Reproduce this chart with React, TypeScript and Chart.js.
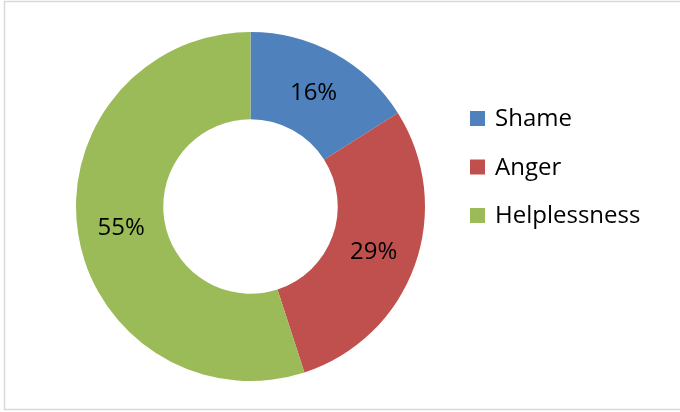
import React, { useEffect, useRef } from "react";
import { Chart, registerables } from "chart.js";

Chart.register(...registerables);

const categories = ["Shame", "Anger", "Helplessness"];
const values = [16, 29, 55];
const colors = ["#4F81BD", "#C0504D", "#9BBB59"];
const valueLabels = ["16%", "29%", "55%"];

const FONT = "'Open Sans', 'Liberation Sans', sans-serif";

const framePlugin = {
  id: "frame",
  beforeDraw(chart: any) {
    const ctx = chart.ctx;
    ctx.save();
    ctx.fillStyle = "#ffffff";
    ctx.fillRect(0, 0, chart.width, chart.height);
    ctx.strokeStyle = "#D9D9D9";
    ctx.lineWidth = 1.5;
    ctx.beginPath();
    ctx.moveTo(chart.width + 5, 1.5);
    ctx.lineTo(4.5, 1.5);
    ctx.lineTo(4.5, 409.5);
    ctx.lineTo(chart.width + 5, 409.5);
    ctx.stroke();
    ctx.restore();
  },
};

const labelPlugin = {
  id: "valueLabels",
  afterDatasetsDraw(chart: any) {
    const ctx = chart.ctx;
    const meta = chart.getDatasetMeta(0);
    ctx.save();
    ctx.font = `24px ${FONT}`;
    ctx.fillStyle = "#000000";
    ctx.textAlign = "center";
    ctx.textBaseline = "middle";
    meta.data.forEach((arc: any, i: number) => {
      const p = arc.getCenterPoint();
      ctx.fillText(valueLabels[i], p.x, p.y + 1);
    });
    ctx.restore();
  },
};

const legendPlugin = {
  id: "customLegend",
  afterDraw(chart: any) {
    const ctx = chart.ctx;
    ctx.save();
    ctx.font = `24px ${FONT}`;
    ctx.textAlign = "left";
    ctx.textBaseline = "middle";
    categories.forEach((c, i) => {
      const y = 118.5 + i * 48.5;
      ctx.fillStyle = colors[i];
      ctx.fillRect(470, y - 7.5, 15, 15);
      ctx.fillStyle = "#000000";
      ctx.fillText(c, 495, y + 1);
    });
    ctx.restore();
  },
};

export default function App() {
  const ref = useRef<HTMLCanvasElement | null>(null);
  useEffect(() => {
    document.body.style.margin = "0";
    if (!ref.current) return;
    const chart = new Chart(ref.current, {
      type: "doughnut",
      data: {
        labels: categories,
        datasets: [
          {
            data: values,
            backgroundColor: colors,
            borderWidth: 0,
          },
        ],
      },
      options: {
        animation: false,
        responsive: false,
        maintainAspectRatio: false,
        cutout: "50%",
        layout: { padding: { left: 76, right: 255, top: 32, bottom: 31 } },
        plugins: {
          legend: { display: false },
          tooltip: { enabled: false },
        },
      },
      plugins: [framePlugin, labelPlugin, legendPlugin],
    });
    return () => chart.destroy();
  }, []);
  return (
    <div style={{ width: 680, height: 412 }}>
      <canvas ref={ref} width={680} height={412} style={{ display: "block" }} />
    </div>
  );
}
